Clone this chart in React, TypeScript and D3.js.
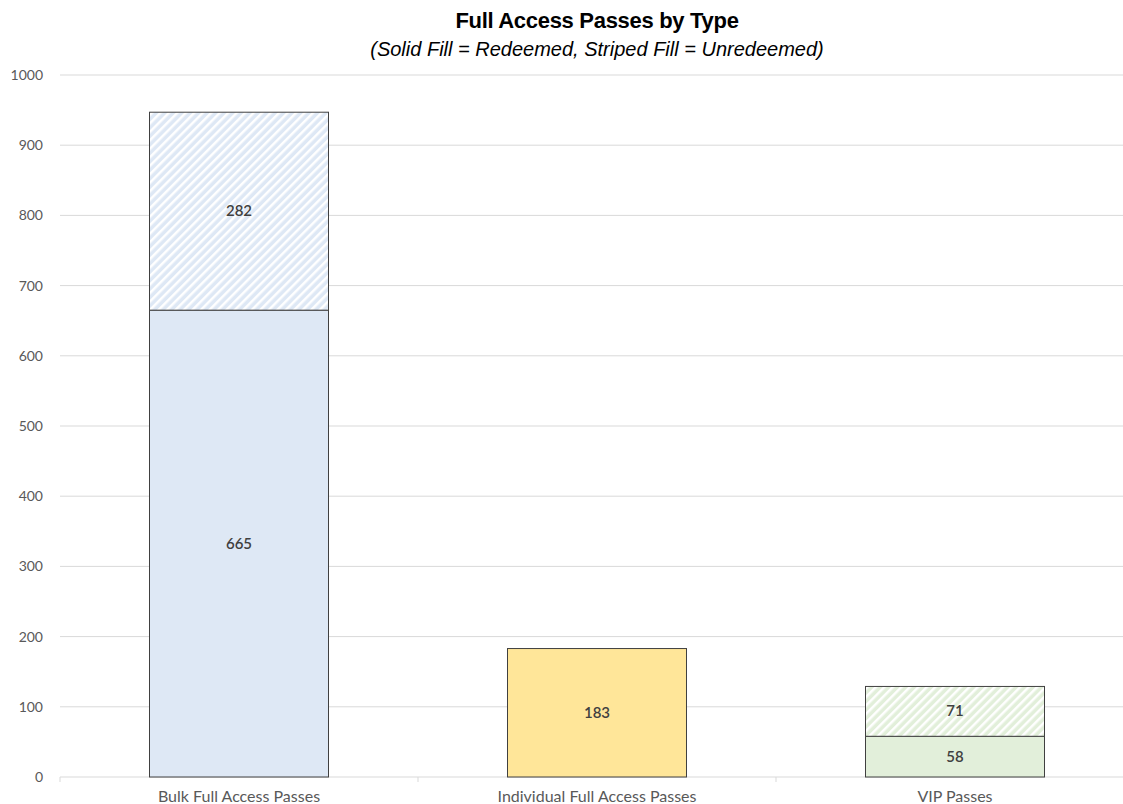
import React from "react";
import * as d3 from "d3";

const categories = ["Bulk Full Access Passes", "Individual Full Access Passes", "VIP Passes"];
const redeemed = [665, 183, 58];
const unredeemed = [282, 0, 71];
const colors = ["#DEE8F5", "#FFE699", "#E2EFDA"];
const yTicks = [0, 100, 200, 300, 400, 500, 600, 700, 800, 900, 1000];

const W = 1123, H = 804;
const left = 60, right = 1134, top = 75, bottom = 777;

export default function App() {
  const x = d3.scaleBand<string>().domain(categories).range([left, right]).paddingInner(0.5).paddingOuter(0.25);
  const y = d3.scaleLinear().domain([0, 1000]).range([bottom, top]);
  const font = "'Gill Sans', 'Lato', 'Open Sans', sans-serif";
  return (
    <svg width={W} height={H} style={{ position: "absolute", left: 0, top: 0, background: "#fff" }}>
      <defs>
        {colors.map((c, i) => (
          <pattern key={i} id={`stripe${i}`} patternUnits="userSpaceOnUse" width={6} height={6} patternTransform="rotate(45)">
            <rect width={6} height={6} fill={c} />
            <rect x={0} y={0} width={2.5} height={6} fill="#ffffff" />
          </pattern>
        ))}
      </defs>
      <text x={597} y={28} textAnchor="middle" fontFamily="Arial, 'Liberation Sans', sans-serif" fontWeight="bold" fontSize={22} fill="#000" letterSpacing={-0.3}>Full Access Passes by Type</text>
      <text x={597} y={56} textAnchor="middle" fontFamily="Arial, 'Liberation Sans', sans-serif" fontStyle="italic" fontSize={20} fill="#000" letterSpacing={0}>(Solid Fill = Redeemed, Striped Fill = Unredeemed)</text>
      {yTicks.map((t) => (
        <g key={t}>
          {t > 0 && <line x1={left} x2={right} y1={y(t)} y2={y(t)} stroke="#D9D9D9" strokeWidth={1} />}
          <text x={43} y={y(t) + 5} textAnchor="end" fontFamily={font} fontSize={14} fill="#595959">{t}</text>
        </g>
      ))}
      <line x1={left} x2={right} y1={bottom} y2={bottom} stroke="#D9D9D9" strokeWidth={1} />
      {[0, 1, 2, 3].map((i) => {
        const xx = left + i * x.step();
        return <line key={i} x1={xx} x2={xx} y1={bottom} y2={bottom + 5} stroke="#D9D9D9" />;
      })}
      {categories.map((c, i) => {
        const bx = x(c)!;
        const bw = x.bandwidth();
        const y0 = y(0), y1 = y(redeemed[i]), y2 = y(redeemed[i] + unredeemed[i]);
        return (
          <g key={c}>
            <rect x={bx} y={y1} width={bw} height={y0 - y1} fill={colors[i]} stroke="#404040" strokeWidth={1} />
            <text x={bx + bw / 2} y={(y0 + y1) / 2 + 5} textAnchor="middle" fontFamily={font} fontSize={15} fontWeight={600} fill="#404040">{redeemed[i]}</text>
            {unredeemed[i] > 0 && (
              <>
                <rect x={bx} y={y2} width={bw} height={y1 - y2} fill={`url(#stripe${i})`} stroke="#404040" strokeWidth={1} />
                <text x={bx + bw / 2} y={(y1 + y2) / 2 + 5} textAnchor="middle" fontFamily={font} fontSize={15} fontWeight={600} fill="#404040">{unredeemed[i]}</text>
              </>
            )}
            <text x={bx + bw / 2} y={802} textAnchor="middle" fontFamily={font} fontSize={16} fill="#595959">{c}</text>
          </g>
        );
      })}
    </svg>
  );
}
